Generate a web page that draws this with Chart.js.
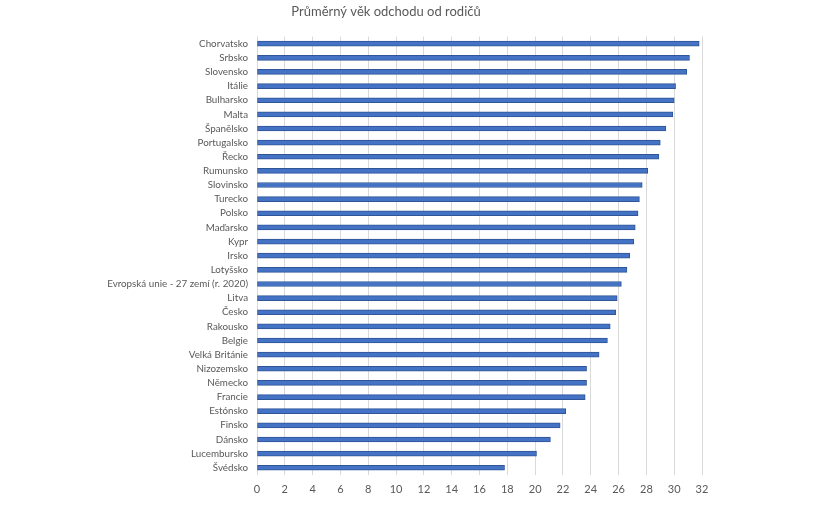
<!DOCTYPE html>
<html>
<head>
<meta charset="utf-8">
<script src="https://cdn.jsdelivr.net/npm/chart.js@4/dist/chart.umd.min.js"></script>
<style>
html,body{margin:0;padding:0;background:#fff;}
#wrap{width:830px;height:513px;position:relative;}
</style>
</head>
<body>
<div id="wrap"><canvas id="c" width="830" height="513"></canvas></div>
<script>
const titleText = 'Průměrný věk odchodu od rodičů';
const categories = ['Chorvatsko','Srbsko','Slovensko','Itálie','Bulharsko','Malta','Španělsko','Portugalsko','Řecko','Rumunsko','Slovinsko','Turecko','Polsko','Maďarsko','Kypr','Irsko','Lotyšsko','Evropská unie - 27 zemí (r. 2020)','Litva','Česko','Rakousko','Belgie','Velká Británie','Nizozemsko','Německo','Francie','Estónsko','Finsko','Dánsko','Lucembursko','Švédsko'];
const values = [31.8,31.1,30.9,30.1,30.0,29.9,29.4,29.0,28.9,28.1,27.7,27.5,27.4,27.2,27.1,26.8,26.6,26.2,25.9,25.8,25.4,25.2,24.6,23.7,23.7,23.6,22.2,21.8,21.1,20.1,17.8];
const xMin = 0, xMax = 32, xStep = 2;

new Chart(document.getElementById('c'), {
  type: 'bar',
  data: {
    labels: categories,
    datasets: [{
      data: values,
      backgroundColor: '#4472C4',
      borderColor: '#2F5597',
      borderWidth: 1,
      borderSkipped: false,
      barThickness: 5
    }]
  },
  options: {
    indexAxis: 'y',
    responsive: false,
    animation: false,
    devicePixelRatio: 1,
    layout: { padding: { left: 0, right: 58, top: 0, bottom: 9 } },
    plugins: {
      legend: { display: false },
      tooltip: { enabled: false },
      title: {
        display: true,
        text: titleText,
        color: '#595959',
        font: { family: 'Lato', size: 13, weight: 'normal' },
        padding: { top: 4, bottom: 17 }
      }
    },
    scales: {
      x: {
        type: 'linear',
        min: xMin, max: xMax,
        ticks: { stepSize: xStep, color: '#595959', font: { family: 'Lato', size: 11 }, padding: 8 },
        grid: { color: '#d9d9d9', drawTicks: false },
        border: { display: false }
      },
      y: {
        type: 'category',
        grid: { display: false, drawTicks: false },
        border: { display: false },
        ticks: { color: '#595959', font: { family: 'Lato', size: 9.8 }, padding: 9, autoSkip: false },
        afterFit(s) { s.width = 257; }
      },
      yR: {
        type: 'linear',
        position: 'right',
        display: true,
        grid: { display: false },
        border: { display: false },
        ticks: { display: false },
        afterFit(s) { s.width = 70; }
      }
    }
  }
});
</script>
</body>
</html>
